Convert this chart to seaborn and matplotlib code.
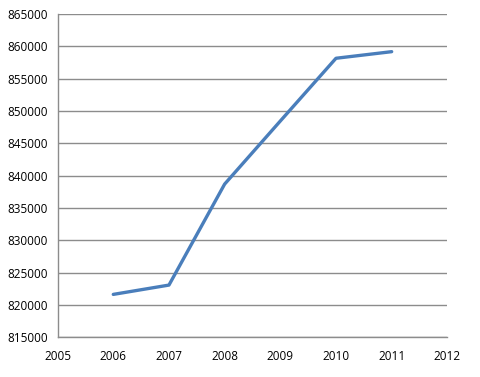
import matplotlib
matplotlib.use("Agg")
import matplotlib.pyplot as plt
import seaborn as sns
import pandas as pd

years = [2006, 2007, 2008, 2009, 2010, 2011]
values = [821650, 823090, 838700, 848450, 858150, 859170]
x_ticks = [2005, 2006, 2007, 2008, 2009, 2010, 2011, 2012]
y_ticks = [815000, 820000, 825000, 830000, 835000, 840000, 845000, 850000, 855000, 860000, 865000]

df = pd.DataFrame({"year": years, "value": values})

sns.set_style("white")
plt.rcParams['font.family'] = ['Open Sans', 'DejaVu Sans']

fig = plt.figure(figsize=(4.8, 3.77), dpi=100)
ax = fig.add_axes([0.120, 0.105, 0.812, 0.858])
sns.lineplot(data=df, x="year", y="value", ax=ax, color="#4a7ebb", linewidth=2.4)

ax.set_xlim(2005, 2012)
ax.set_ylim(815000, 865000)
ax.set_xticks(x_ticks)
ax.set_yticks(y_ticks)
ax.set_xticklabels([str(t) for t in x_ticks])
ax.set_yticklabels([str(t) for t in y_ticks])
ax.set_xlabel("")
ax.set_ylabel("")
ax.yaxis.grid(True, color="#8c8c8c", linewidth=1.0)
ax.xaxis.grid(False)
for s in ["top", "right"]:
    ax.spines[s].set_visible(False)
for s in ["left", "bottom"]:
    ax.spines[s].set_color("#8c8c8c")
    ax.spines[s].set_linewidth(1.0)
ax.tick_params(axis="both", which="both", length=4, width=1, color="#8c8c8c",
               labelsize=8.5, labelcolor="black", direction="out")
ax.tick_params(axis="y", pad=3)
ax.tick_params(axis="x", pad=5)
ax.set_axisbelow(True)

fig.savefig("out.png", dpi=100)
